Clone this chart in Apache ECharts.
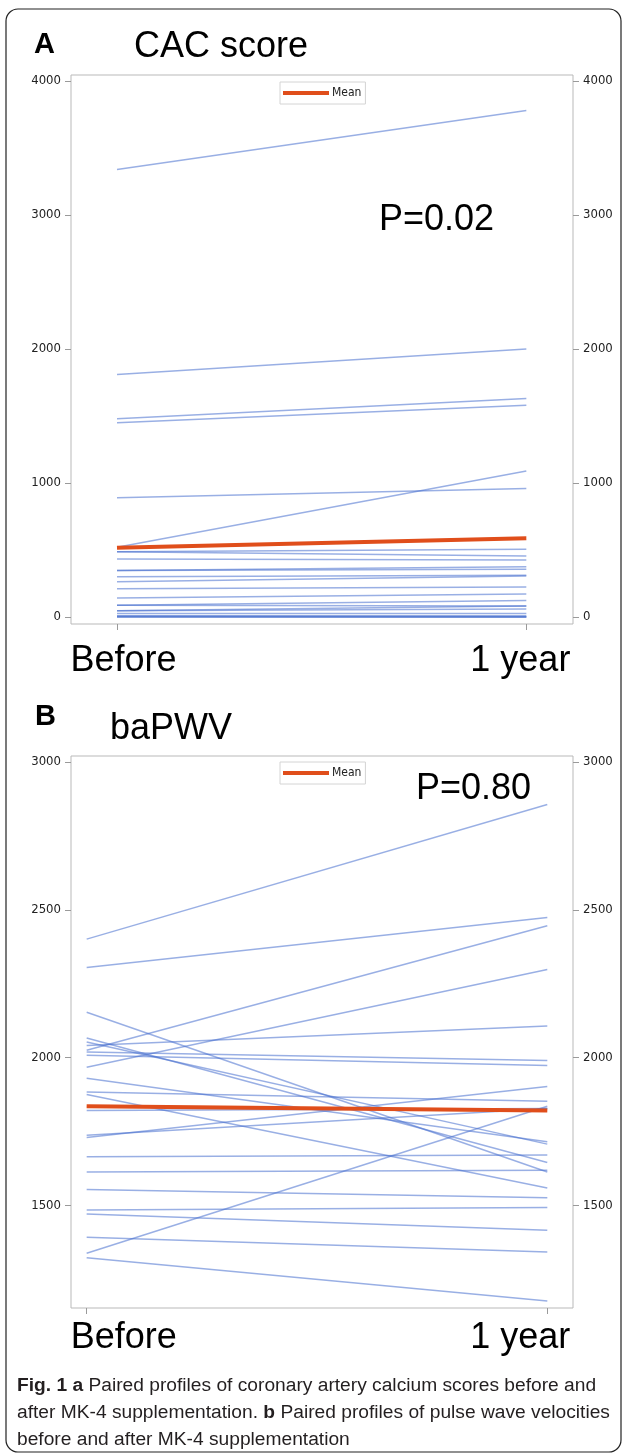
<!DOCTYPE html>
<html>
<head>
<meta charset="utf-8">
<title>Fig. 1 paired profiles</title>
<script src="https://cdn.jsdelivr.net/npm/echarts@6/dist/echarts.min.js"></script>
<style>
    html, body {margin: 0; padding: 0; background: #fff;}
    #chart {width: 627px; height: 1455px;}
</style>
</head>
<body>
<div id="chart"></div>
<script>
    // 时间点
    var timePoints = ['Before', '1 year'];

    // A: CAC score, one entry per patient
    var cacBefore = [3340, 1810, 1480, 1450, 890, 520, 487, 487, 433, 348, 348, 301, 264, 211, 142, 87, 87, 47, 47, 27, 10, 5, 0, 0];
    var cacAfter  = [3780, 2000, 1630, 1580, 960, 1090, 505, 455, 425, 376, 356, 311, 306, 224, 172, 124, 82, 82, 60, 27, 10, 3, 0, 0];
    var cacMean   = [517, 587];
    var cacTicks  = [0, 1000, 2000, 3000, 4000];

    // B: baPWV
    var pwvBefore = [2401, 2305, 2025, 1968, 2041, 2154, 2067, 2053, 2019, 2008, 1931, 1884, 1876, 1822, 1738, 1730, 1665, 1614, 1555, 1485, 1472, 1393, 1339, 1324];
    var pwvAfter  = [2856, 2474, 2446, 2298, 2107, 1614, 1646, 1708, 1991, 1974, 1716, 1853, 1560, 1828, 1828, 1903, 1671, 1620, 1527, 1494, 1417, 1343, 1836, 1178];
    var pwvMean   = [1836, 1822];
    var pwvTicks  = [1500, 2000, 2500, 3000];

    var pValues = ['P=0.02', 'P=0.80'];

    var BIG = 'Liberation Sans, Arial, sans-serif';
    var NARROW = '"Liberation Sans Narrow", "DejaVu Sans Condensed", sans-serif';
    var LINE_BLUE = 'rgba(70, 110, 205, 0.55)';
    var MEAN_RED = '#e04e1b';

    function buildXAxis(grid, min, max, padBefore, pad1y, margin) {
        return {
            type: 'value', gridIndex: grid, min: min, max: max,
            splitLine: {show: false},
            axisLine: {show: false, onZero: false},
            axisTick: {show: true, length: 6, lineStyle: {color: '#9a9a9a'}, customValues: [0, 1]},
            axisLabel: {
                customValues: [0, 1], margin: margin,
                formatter: function (v) { return v < 0.5 ? '{b|' + timePoints[0] + '}' : '{y|' + timePoints[1] + '}'; },
                rich: {
                    b: {fontFamily: BIG, fontSize: 36, color: '#000', padding: [0, 0, 0, padBefore]},
                    y: {fontFamily: BIG, fontSize: 36, color: '#000', padding: [0, pad1y, 0, 0]}
                }
            }
        };
    }

    function buildYAxis(grid, pos, min, max, ticks) {
        return {
            type: 'value', gridIndex: grid, position: pos, min: min, max: max,
            splitLine: {show: false},
            axisLine: {show: false, onZero: false},
            axisTick: {show: true, length: 6, lineStyle: {color: '#9a9a9a'}, customValues: ticks},
            axisLabel: {
                customValues: ticks, margin: 10, fontFamily: NARROW, fontSize: 13, color: '#222',
                formatter: function (v) { return String(v); }
            }
        };
    }

    function buildSeries(before, after, mean, axisIdx, tag) {
        var list = [];
        for (var i = 0; i < before.length; i++) {
            list.push({
                name: tag + i, type: 'line', xAxisIndex: axisIdx, yAxisIndex: axisIdx * 2,
                symbol: 'none', silent: true,
                lineStyle: {color: LINE_BLUE, width: 1.5},
                data: [[0, before[i]], [1, after[i]]]
            });
        }
        // 均值线
        list.push({
            name: 'Mean', type: 'line', xAxisIndex: axisIdx, yAxisIndex: axisIdx * 2,
            symbol: 'none', z: 5, color: MEAN_RED,
            lineStyle: {color: MEAN_RED, width: 4},
            data: [[0, mean[0]], [1, mean[1]]]
        });
        return list;
    }

    function legendAt(top) {
        return {
            data: ['Mean'], left: 280, top: top, icon: 'rect',
            itemWidth: 46, itemHeight: 4, itemGap: 4,
            padding: [5, 4, 5, 3],
            borderColor: '#d4d4d4', borderWidth: 1,
            selectedMode: false,
            textStyle: {fontFamily: NARROW, fontSize: 12, color: '#222', padding: [0, 0, 0, -2]}
        };
    }

    function txt(x, y, text, size, weight) {
        return {
            type: 'text', x: x, y: y,
            style: {text: text, fontFamily: BIG, fontSize: size, fontWeight: weight || 'normal', fill: '#000', verticalAlign: 'top'}
        };
    }

    var chart = echarts.init(document.getElementById('chart'));
    chart.setOption({
        animation: false,
        backgroundColor: '#fff',
        grid: [
            {left: 71, right: 54, top: 75, height: 549, show: true, borderColor: '#b9b9b9', borderWidth: 1},
            {left: 71, right: 54, top: 756, height: 552, show: true, borderColor: '#b9b9b9', borderWidth: 1}
        ],
        xAxis: [
            buildXAxis(0, -0.1124, 1.114, 13, 12, 19),
            buildXAxis(1, -0.034, 1.0558, 74, 54, 12)
        ],
        yAxis: [
            buildYAxis(0, 'left', -52, 4045, cacTicks),
            buildYAxis(0, 'right', -52, 4045, cacTicks),
            buildYAxis(1, 'left', 1154, 3020, pwvTicks),
            buildYAxis(1, 'right', 1154, 3020, pwvTicks)
        ],
        legend: [legendAt(82), legendAt(762)],
        series: buildSeries(cacBefore, cacAfter, cacMean, 0, 'cac').concat(buildSeries(pwvBefore, pwvAfter, pwvMean, 1, 'pwv')),
        graphic: [
            {
                type: 'rect', shape: {x: 6, y: 9, width: 615, height: 1443, r: 12},
                style: {fill: 'none', stroke: '#222', lineWidth: 1.2}, silent: true
            },
            txt(34, 30, 'A', 29, 'bold'),
            txt(134, 29, 'CAC score', 36),
            txt(379, 202, pValues[0], 36),
            txt(35, 702, 'B', 29, 'bold'),
            txt(110, 711, 'baPWV', 36),
            txt(416, 771, pValues[1], 36),
            {
                type: 'text', x: 17, y: 1372,
                style: {
                    text: '{b|Fig. 1 a} Paired profiles of coronary artery calcium scores before and\n' +
                          'after MK-4 supplementation. {b|b} Paired profiles of pulse wave velocities\n' +
                          'before and after MK-4 supplementation',
                    fontFamily: BIG, fontSize: 19.2, lineHeight: 27, fill: '#231f20', verticalAlign: 'top',
                    rich: {b: {fontFamily: BIG, fontSize: 19.2, fontWeight: 'bold', fill: '#231f20'}}
                }
            }
        ]
    });
</script>
</body>
</html>
